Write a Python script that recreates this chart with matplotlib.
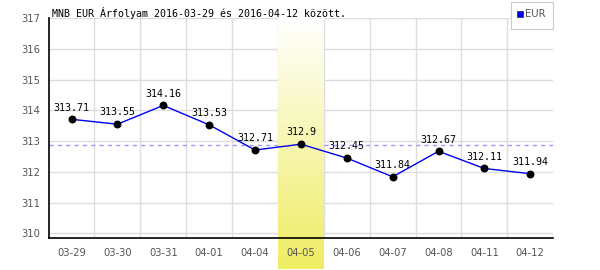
import numpy as np
import matplotlib
matplotlib.use("Agg")
import matplotlib.pyplot as plt
from matplotlib.colors import LinearSegmentedColormap

dates = ["03-29", "03-30", "03-31", "04-01", "04-04", "04-05",
         "04-06", "04-07", "04-08", "04-11", "04-12"]
rates = [313.71, 313.55, 314.16, 313.53, 312.71, 312.9,
         312.45, 311.84, 312.67, 312.11, 311.94]
value_labels = ["313.71", "313.55", "314.16", "313.53", "312.71", "312.9",
                "312.45", "311.84", "312.67", "312.11", "311.94"]
highlight = "04-05"
yticks = [310, 311, 312, 313, 314, 315, 316, 317]
title = "MNB EUR Árfolyam 2016-03-29 és 2016-04-12 között."

fig = plt.figure(figsize=(6, 2.7), dpi=100)
ax = fig.add_axes([0.081, 0.1185, 0.841, 0.8145])

x = np.arange(len(dates))
ax.set_xlim(-0.5, len(dates) - 0.5)
ax.set_ylim(309.85, 317)

# grid
for v in yticks:
    ax.axhline(v, color="#dddddd", lw=1, zorder=0)
for b in np.arange(0.5, len(dates) - 0.5, 1):
    ax.axvline(b, color="#dddddd", lw=1, zorder=0)

# average line
ax.axhline(np.mean(rates), color="#9999ff", lw=1, ls=(0, (3, 3)), zorder=0.5)

# highlighted day, gradient band running below the axis
hi = dates.index(highlight)
cmap = LinearSegmentedColormap.from_list("yel", ["#efed62", "#ffffff"])
grad = np.linspace(0, 1, 256).reshape(-1, 1)
ax.imshow(grad, cmap=cmap, aspect="auto", origin="lower",
          extent=(hi - 0.5, hi + 0.5, 308.85, 317), zorder=1,
          clip_on=False)

ax.plot(x, rates, color="#0000ee", lw=1, zorder=2)
ax.scatter(x, rates, s=22, color="black", zorder=3, label="EUR")
for xi, yi, t in zip(x, rates, value_labels):
    ax.text(xi, yi + 0.22, t, ha="center", va="bottom", fontsize=7.2,
            family="DejaVu Sans Mono", color="black", zorder=4)

ax.set_xticks(x)
ax.set_xticklabels(dates)
ax.set_yticks(yticks)
ax.tick_params(length=0, labelsize=7.2, colors="#555555", pad=6)
ax.tick_params(axis="x", pad=7)
for side in ["top", "right"]:
    ax.spines[side].set_visible(False)
ax.spines["left"].set_linewidth(1.2)
ax.spines["bottom"].set_linewidth(1.2)
ax.spines["left"].set_zorder(5)
ax.spines["bottom"].set_zorder(5)

fig.text(0.087, 0.952, title, fontsize=7.2, family="DejaVu Sans Mono",
         color="black", va="center")

# legend box
leg_ax = fig.add_axes([0.852, 0.893, 0.07, 0.098])
leg_ax.set_xticks([])
leg_ax.set_yticks([])
for s in leg_ax.spines.values():
    s.set_color("#cccccc")
leg_ax.set_xlim(0, 1)
leg_ax.set_ylim(0, 1)
leg_ax.scatter([0.2], [0.55], marker="s", s=22, color="#0000ee",
               edgecolors="#333366", linewidths=0.6)
leg_ax.text(0.33, 0.55, "EUR", fontsize=7.2, color="#555555", va="center")

fig.savefig("out.png", dpi=100)
